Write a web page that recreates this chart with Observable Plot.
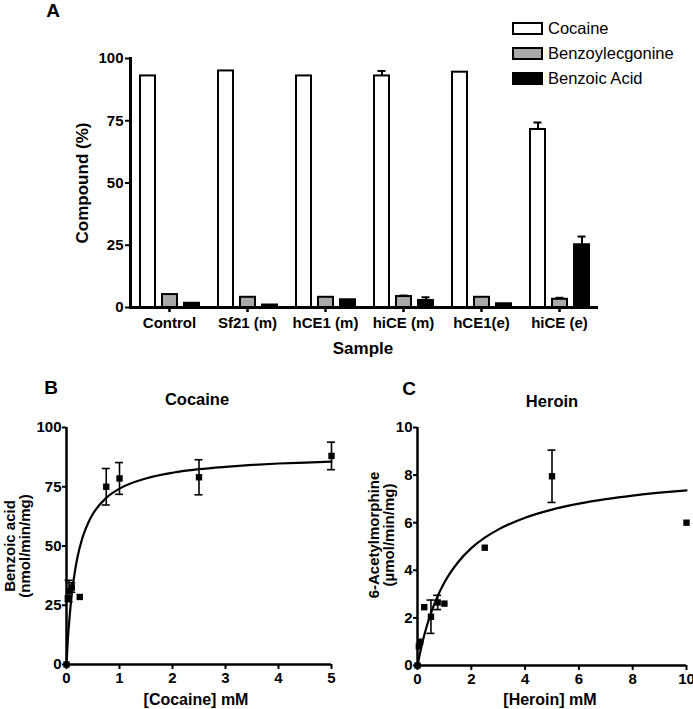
<!DOCTYPE html>
<html>
<head>
<meta charset="utf-8">
<script src="https://cdn.jsdelivr.net/npm/d3@7"></script>
<script src="https://cdn.jsdelivr.net/npm/@observablehq/plot@0.6"></script>
<style>
  html, body { margin: 0; padding: 0; background: white; }
  #root { position: relative; width: 693px; height: 709px; overflow: hidden; background: white;
          font-family: "Liberation Sans", Arial, sans-serif; color: black; }
  .panel { position: absolute; }
  .lbl { position: absolute; white-space: nowrap; line-height: 1; font-weight: bold; transform: translate(-50%, -50%); text-align: center; }
  .rot { transform: translate(-50%, -50%) rotate(-90deg); }
  .legend { position: absolute; font-size: 16.5px; }
  .legend .row { display: flex; align-items: center; height: 25px; }
  .legend .sw { width: 27px; height: 9px; border: 2px solid black; margin-right: 5px; }
</style>
</head>
<body>
<div id="root"></div>
<script>
// ---------- Panel A data ----------
const samples = ["Control", "Sf21 (m)", "hCE1 (m)", "hiCE (m)", "hCE1(e)", "hiCE (e)"];
const compounds = ["Cocaine", "Benzoylecgonine", "Benzoic Acid"];
const cocaine = [93, 95, 93, 93, 94.5, 71.5];
const cocaineErr = [0, 0, 0, 2, 0, 2.8];
const benzoylecgonine = [5.2, 4.1, 4.1, 4.4, 4.1, 3.3];
const benzoylecgonineErr = [0, 0, 0, 0.4, 0, 0.6];
const benzoicAcid = [1.7, 1.0, 3.1, 2.8, 1.5, 25.2];
const benzoicAcidErr = [0, 0, 0, 1.3, 0, 3.3];
const yTicksA = [0, 25, 50, 75, 100];

// ---------- Panel B data (Cocaine) ----------
const cocaineConc = [0, 0.025, 0.05, 0.1, 0.25, 0.75, 1, 2.5, 5];
const cocaineRate = [0, 28, 31, 32.5, 28.5, 75, 78.5, 79, 88];
const cocaineRateErr = [0, 0, 4.5, 2, 0, 7.7, 6.7, 7.4, 5.8];
const cocaineFitX = [0, 0.025, 0.05, 0.1, 0.15, 0.2, 0.3, 0.4, 0.5, 0.75, 1, 1.5, 2, 2.5, 3, 3.5, 4, 4.5, 5];
const cocaineFitY = [0, 10.5, 17.8, 29.7, 38, 44.5, 53.4, 59.3, 63.6, 70.3, 74.2, 78.5, 80.9, 82.4, 83.4, 84.2, 84.8, 85.2, 85.6];
const xTicksB = [0, 1, 2, 3, 4, 5];
const yTicksB = [0, 25, 50, 75, 100];

// ---------- Panel C data (Heroin) ----------
const heroinConc = [0, 0.05, 0.1, 0.25, 0.5, 0.75, 1, 2.5, 5, 10];
const heroinRate = [0, 0.8, 1.0, 2.45, 2.05, 2.65, 2.6, 4.95, 7.95, 6.0];
const heroinRateErr = [0, 0, 0, 0, 0.7, 0.3, 0, 0, 1.1, 0];
const heroinFitX = [0, 0.1, 0.25, 0.5, 0.75, 1, 1.5, 2, 2.5, 3, 4, 5, 6, 7, 8, 9, 10];
const heroinFitY = [0, 0.56, 1.27, 2.2, 2.92, 3.49, 4.33, 4.93, 5.37, 5.71, 6.21, 6.55, 6.8, 6.99, 7.14, 7.26, 7.36];
const xTicksC = [0, 2, 4, 6, 8, 10];
const yTicksC = [0, 2, 4, 6, 8, 10];

// ---------- styles ----------
const compoundFills = ["white", "#a9a9a9", "black"];
const FONT = '"Liberation Sans", Arial, sans-serif';

const root = document.getElementById("root");
function place(node, left, top) {
  const wrap = document.createElement("div");
  wrap.className = "panel";
  wrap.style.left = left + "px";
  wrap.style.top = top + "px";
  wrap.appendChild(node);
  root.appendChild(wrap);
}
function label(html, x, y, size, rotate) {
  const d = document.createElement("div");
  d.className = "lbl" + (rotate ? " rot" : "");
  d.style.left = x + "px";
  d.style.top = y + "px";
  d.style.fontSize = size + "px";
  d.innerHTML = html;
  root.appendChild(d);
}

// ---------- Panel A ----------
const valsA = [cocaine, benzoylecgonine, benzoicAcid];
const errsA = [cocaineErr, benzoylecgonineErr, benzoicAcidErr];
const rowsA = samples.flatMap((s, i) => compounds.map((c, j) => ({
  sample: s, compound: c, value: valsA[j][i], err: errsA[j][i]
})));
const errRowsA = rowsA.filter(d => d.err > 0);

const plotA = Plot.plot({
  width: 693, height: 360,
  marginLeft: 130, marginRight: 95, marginTop: 58, marginBottom: 53,
  style: {fontFamily: FONT, fontSize: "15px", fontWeight: "bold", background: "transparent"},
  fx: {domain: samples, padding: 0, label: null},
  x: {domain: compounds, axis: null, paddingInner: 0.32, paddingOuter: 0.43},
  y: {domain: [0, 100], label: null},
  color: {domain: compounds, range: compoundFills},
  marks: [
    Plot.barY(rowsA, {fx: "sample", x: "compound", y: "value", fill: "compound", stroke: "black", strokeWidth: 2}),
    Plot.ruleX(errRowsA, {fx: "sample", x: "compound", y1: "value", y2: d => d.value + d.err, strokeWidth: 2}),
    Plot.tickY(errRowsA, {fx: "sample", x: "compound", y: d => d.value + d.err, strokeWidth: 2, insetLeft: 3.5, insetRight: 3.5}),
    Plot.ruleY([0], {strokeWidth: 3}),
    Plot.frame({anchor: "left", facetAnchor: "left", strokeWidth: 3}),
    Plot.axisY({ticks: yTicksA, tickSize: 5, tickPadding: 2, strokeWidth: 2, label: null}),
    Plot.axisFx({anchor: "bottom", tickSize: 5, tickPadding: 5, strokeWidth: 2.5, label: null})
  ]
});
place(plotA, 0, 0);

label("A", 53, 10, 19);
label("Compound (%)", 82, 183, 17, true);
label("Sample", 363, 348, 17);

// legend
const legend = document.createElement("div");
legend.className = "legend";
legend.style.left = "512px";
legend.style.top = "16px";
compounds.forEach((c, i) => {
  const row = document.createElement("div");
  row.className = "row";
  const sw = document.createElement("div");
  sw.className = "sw";
  sw.style.background = compoundFills[i];
  const t = document.createElement("span");
  t.textContent = c;
  row.appendChild(sw); row.appendChild(t);
  legend.appendChild(row);
});
root.appendChild(legend);

// ---------- Panel B / C helper ----------
function kinetics({x, y, err, fitX, fitY, xDomain, yDomain, xTicks, yTicks, width, height, margins}) {
  const pts = x.map((v, i) => ({x: v, y: y[i], err: err[i]}));
  const errPts = pts.filter(d => d.err > 0);
  const fit = fitX.map((v, i) => ({x: v, y: fitY[i]}));
  const fmt = d => String(d);
  return Plot.plot({
    width, height, ...margins,
    style: {fontFamily: FONT, fontSize: "15px", fontWeight: "bold", background: "transparent"},
    x: {domain: xDomain, label: null},
    y: {domain: yDomain, label: null},
    marks: [
      Plot.ruleX([xDomain[0]], {strokeWidth: 2.5}),
      Plot.ruleY([yDomain[0]], {strokeWidth: 2.5}),
      Plot.axisX({ticks: xTicks, tickFormat: fmt, tickSize: 5, tickPadding: 3, strokeWidth: 2, label: null}),
      Plot.axisY({ticks: yTicks, tickFormat: fmt, tickSize: 4, tickPadding: 1, strokeWidth: 2, label: null}),
      Plot.line(fit, {x: "x", y: "y", curve: "monotone-x", strokeWidth: 2.2}),
      Plot.ruleX(errPts, {x: "x", y1: d => d.y - d.err, y2: d => d.y + d.err, strokeWidth: 1.6}),
      Plot.ruleY(errPts, {x1: "x", x2: "x", y: d => d.y + d.err, insetLeft: -4, insetRight: -4, strokeWidth: 1.6}),
      Plot.ruleY(errPts, {x1: "x", x2: "x", y: d => d.y - d.err, insetLeft: -4, insetRight: -4, strokeWidth: 1.6}),
      Plot.dot(pts, {x: "x", y: "y", symbol: "square", r: 3.6, fill: "black", stroke: "none"})
    ]
  });
}

const plotB = kinetics({
  x: cocaineConc, y: cocaineRate, err: cocaineRateErr, fitX: cocaineFitX, fitY: cocaineFitY,
  xDomain: [0, 5], yDomain: [0, 100], xTicks: xTicksB, yTicks: yTicksB,
  width: 346, height: 349,
  margins: {marginLeft: 66, marginRight: 15, marginTop: 67, marginBottom: 45}
});
place(plotB, 0, 360);
label("B", 51, 387, 19);
label("Cocaine", 197, 399, 16.5);
label("Benzoic acid<br>(nmol/min/mg)", 17, 546, 15, true);
label("[Cocaine] mM", 196, 700, 16);

const plotC = kinetics({
  x: heroinConc, y: heroinRate, err: heroinRateErr, fitX: heroinFitX, fitY: heroinFitY,
  xDomain: [0, 10], yDomain: [0, 10], xTicks: xTicksC, yTicks: yTicksC,
  width: 347, height: 349,
  margins: {marginLeft: 71, marginRight: 7, marginTop: 67, marginBottom: 44}
});
place(plotC, 346, 360);
label("C", 409, 388, 19);
label("Heroin", 552, 401, 16.5);
label("6-Acetylmorphine<br>(µmol/min/mg)", 381, 535, 15, true);
label("[Heroin] mM", 550, 700, 16);
</script>
</body>
</html>
